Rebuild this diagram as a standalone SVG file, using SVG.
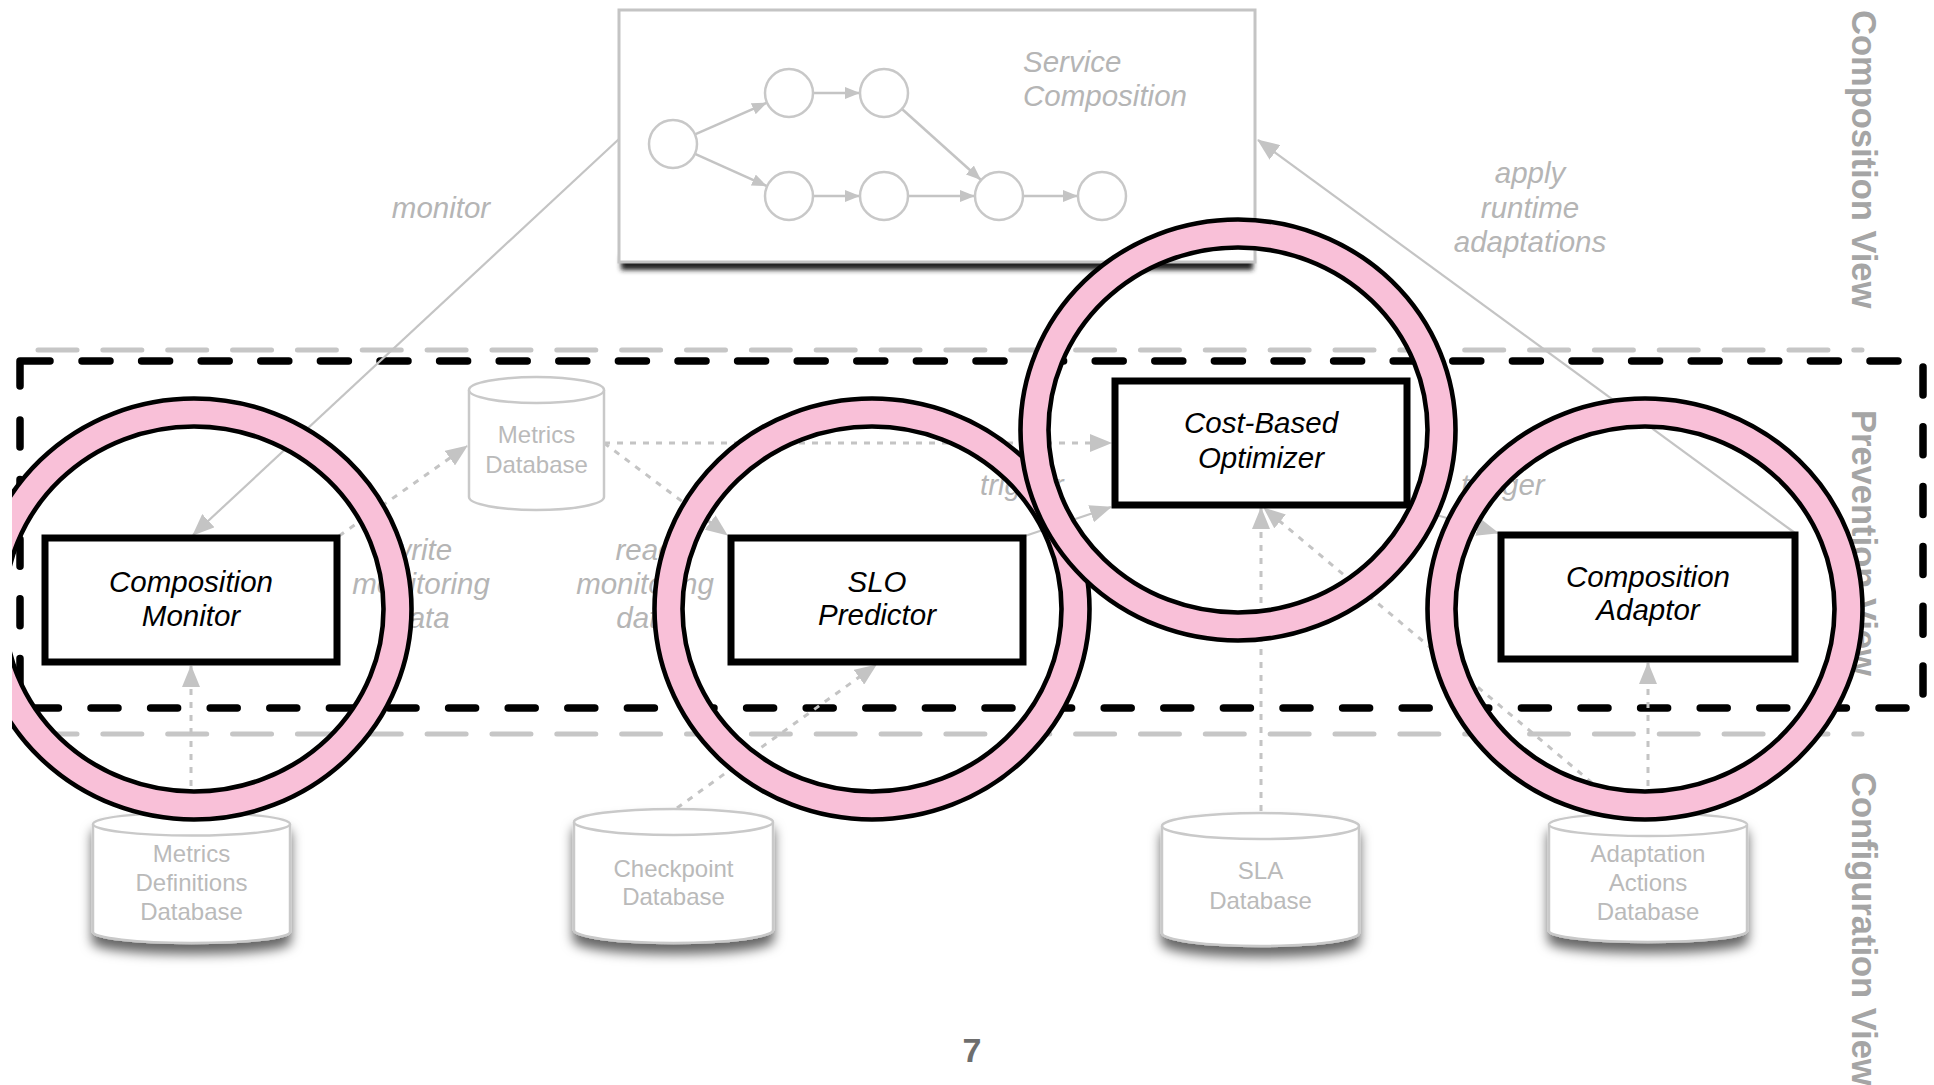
<svg xmlns="http://www.w3.org/2000/svg" width="1934" height="1085" viewBox="0 0 1934 1085">
<style>
.lbl{font-family:"Liberation Sans",Arial,sans-serif;font-style:italic;font-size:29.5px;fill:#b5b5b5;text-anchor:middle}
.node{font-family:"Liberation Sans",Arial,sans-serif;font-style:italic;font-size:29.5px;fill:#000;text-anchor:middle}
.db{font-family:"Liberation Sans",Arial,sans-serif;font-size:24px;fill:#bababa;text-anchor:middle}
.view{font-family:"Liberation Sans",Arial,sans-serif;font-weight:bold;font-size:34.5px;fill:#a5a5a5}
.box{fill:#fff;stroke:#000;stroke-width:7}
.cyl{fill:#fff;stroke:#c9c9c9;stroke-width:2.5}
.sol{fill:none;stroke:#c4c4c4;stroke-width:2.2;marker-end:url(#ah)}
.dot{fill:none;stroke:#c4c4c4;stroke-width:3;stroke-dasharray:6 7;marker-end:url(#ah)}
.sc{fill:#fff;stroke:#c8c8c8;stroke-width:2.5}
.scl{fill:none;stroke:#c4c4c4;stroke-width:2.5;marker-end:url(#ahs)}
.gd{fill:none;stroke:#c6c6c6;stroke-width:5;stroke-linecap:round;stroke-dasharray:39 25.85}
.bd{fill:none;stroke:#000;stroke-width:7.5;stroke-linecap:round;stroke-linejoin:round}
.band{fill:none;stroke:#f9c0d8;stroke-width:29}
.rl{fill:none;stroke:#000;stroke-width:4.6}
</style>
<defs>
<marker id="ah" markerUnits="userSpaceOnUse" markerWidth="22" markerHeight="18" refX="21" refY="9" orient="auto"><path d="M0,0 L22,9 L0,18 z" fill="#c4c4c4"/></marker>
<marker id="ahs" markerUnits="userSpaceOnUse" markerWidth="15" markerHeight="12" refX="15" refY="6" orient="auto"><path d="M0,0 L15,6 L0,12 z" fill="#c4c4c4"/></marker>
<filter id="boxshadow" x="-5%" y="-100%" width="110%" height="300%"><feGaussianBlur stdDeviation="2.5"/></filter>
<filter id="dbshadow" x="-20%" y="-20%" width="140%" height="170%"><feDropShadow dx="0" dy="10" stdDeviation="6" flood-color="#000" flood-opacity="0.6"/></filter>
<clipPath id="slide"><rect x="12" y="0" width="1922" height="1085"/></clipPath>
</defs>
<rect width="1934" height="1085" fill="#fff"/>

<g id="layers">
<path class="gd" d="M38,350 H1862"/>
<path class="gd" d="M38,734 H1862"/>
<path class="bd" d="M20,386 V361 H50"/>
<path class="bd" d="M82,361 H1910" stroke-dasharray="28 31.6"/>
<path class="bd" d="M1923,367 V708" stroke-dasharray="28 31.8"/>
<path class="bd" d="M1906,708 H20" stroke-dasharray="27 32.6"/>
<path class="bd" d="M20,420 V708" stroke-dasharray="27 32.6"/>
</g>

<g id="service-composition">
<rect x="621" y="256" width="632" height="14" fill="#222" filter="url(#boxshadow)"/>
<rect x="619" y="10" width="636" height="252" fill="#fff" stroke="#c4c4c4" stroke-width="3"/>
<path class="scl" d="M695,134.3 L767,102.7"/>
<path class="scl" d="M695,153.8 L767,186.2"/>
<path class="scl" d="M813,93 H860"/>
<path class="scl" d="M813,196 H860"/>
<path class="scl" d="M902,109 L981,180"/>
<path class="scl" d="M908,196 H975"/>
<path class="scl" d="M1023,196 H1078"/>
<circle class="sc" cx="673" cy="144" r="24"/>
<circle class="sc" cx="789" cy="93" r="24"/>
<circle class="sc" cx="884" cy="93" r="24"/>
<circle class="sc" cx="789" cy="196" r="24"/>
<circle class="sc" cx="884" cy="196" r="24"/>
<circle class="sc" cx="999" cy="196" r="24"/>
<circle class="sc" cx="1102" cy="196" r="24"/>
<text class="lbl" style="text-anchor:start" x="1023" y="72">Service</text>
<text class="lbl" style="text-anchor:start" x="1023" y="106">Composition</text>
</g>

<g id="connectors">
<path class="sol" d="M619,139 L193,535"/>
<path class="sol" d="M1795,533 L1258,140"/>
<path class="dot" d="M339,536 L467,446"/>
<path class="dot" d="M604,443 L727,535"/>
<path class="dot" d="M604,443 H1111"/>
<path class="sol" d="M1025,536 L1111,507"/>
<path class="sol" d="M1409,507 L1498,533"/>
<path class="dot" d="M1261,811 V508"/>
<path class="dot" d="M1622,808 L1264,508"/>
<path class="dot" d="M1648,812 V663"/>
<path class="dot" d="M191,812 V666"/>
<path class="dot" d="M677,808 L876,665"/>
<text class="lbl" x="441" y="218">monitor</text>
<text class="lbl" x="1530" y="183">apply</text>
<text class="lbl" x="1530" y="218">runtime</text>
<text class="lbl" x="1530" y="252">adaptations</text>
<text class="lbl" x="421" y="560">write</text>
<text class="lbl" x="421" y="594">monitoring</text>
<text class="lbl" x="421" y="628">data</text>
<text class="lbl" x="645" y="560">read</text>
<text class="lbl" x="645" y="594">monitoring</text>
<text class="lbl" x="645" y="628">data</text>
<text class="lbl" style="text-anchor:start" x="980" y="495">trigger</text>
<text class="lbl" style="text-anchor:start" x="1461" y="495">trigger</text>
</g>

<g id="db-metrics">
<path class="cyl" d="M469,390 A67.5,13 0 0 1 604,390 V497 A67.5,13 0 0 1 469,497 Z"/>
<path class="cyl" fill="none" d="M469,390 A67.5,13 0 0 0 604,390"/>
<text class="db" x="536.5" y="443">Metrics</text>
<text class="db" x="536.5" y="473">Database</text>
</g>

<g id="db-metrics-definitions">
<path class="cyl" filter="url(#dbshadow)" d="M93,824 A98.5,11.5 0 0 1 290,824 V932 A98.5,11 0 0 1 93,932 Z"/>
<path class="cyl" fill="none" d="M93,824 A98.5,11.5 0 0 0 290,824"/>
<text class="db" x="191.5" y="862">Metrics</text>
<text class="db" x="191.5" y="891">Definitions</text>
<text class="db" x="191.5" y="920">Database</text>
</g>

<g id="db-checkpoint">
<path class="cyl" filter="url(#dbshadow)" d="M574,822 A99.5,13 0 0 1 773,822 V930 A99.5,13 0 0 1 574,930 Z"/>
<path class="cyl" fill="none" d="M574,822 A99.5,13 0 0 0 773,822"/>
<text class="db" x="673.5" y="877">Checkpoint</text>
<text class="db" x="673.5" y="905">Database</text>
</g>

<g id="db-sla">
<path class="cyl" filter="url(#dbshadow)" d="M1162,826 A98.5,13 0 0 1 1359,826 V933 A98.5,13 0 0 1 1162,933 Z"/>
<path class="cyl" fill="none" d="M1162,826 A98.5,13 0 0 0 1359,826"/>
<text class="db" x="1260.5" y="879">SLA</text>
<text class="db" x="1260.5" y="909">Database</text>
</g>

<g id="db-adaptation-actions">
<path class="cyl" filter="url(#dbshadow)" d="M1549,824.5 A99,11.5 0 0 1 1747,824.5 V931 A99,11 0 0 1 1549,931 Z"/>
<path class="cyl" fill="none" d="M1549,824.5 A99,11.5 0 0 0 1747,824.5"/>
<text class="db" x="1648" y="862">Adaptation</text>
<text class="db" x="1648" y="891">Actions</text>
<text class="db" x="1648" y="920">Database</text>
</g>

<g id="node-composition-monitor">
<rect class="box" x="45" y="538" width="292" height="124"/>
<text class="node" x="191" y="592">Composition</text>
<text class="node" x="191" y="626">Monitor</text>
</g>

<g id="node-slo-predictor">
<rect class="box" x="731" y="538" width="292" height="124"/>
<text class="node" x="877" y="592">SLO</text>
<text class="node" x="877" y="625">Predictor</text>
</g>

<g id="node-cost-based-optimizer">
<rect class="box" x="1115" y="381" width="292" height="124"/>
<text class="node" x="1261" y="433">Cost-Based</text>
<text class="node" x="1261" y="468">Optimizer</text>
</g>

<g id="node-composition-adaptor">
<rect class="box" x="1501" y="535" width="294" height="124"/>
<text class="node" x="1648" y="587">Composition</text>
<text class="node" x="1648" y="620">Adaptor</text>
</g>

<g id="view-labels">
<text class="view" transform="translate(1852,10) rotate(90)">Composition View</text>
<text class="view" transform="translate(1852,410) rotate(90)">Prevention View</text>
<text class="view" transform="translate(1852,772) rotate(90)">Configuration View</text>
</g>

<g id="rings" clip-path="url(#slide)">
<g id="ring-monitor">
<ellipse class="band" cx="194" cy="609" rx="203.5" ry="196.5"/>
<ellipse class="rl" cx="194" cy="609" rx="217.5" ry="210.5"/>
<ellipse class="rl" cx="194" cy="609" rx="189.5" ry="182.5"/>
</g>
<g id="ring-predictor">
<ellipse class="band" cx="872" cy="609" rx="203.5" ry="196.5"/>
<ellipse class="rl" cx="872" cy="609" rx="217.5" ry="210.5"/>
<ellipse class="rl" cx="872" cy="609" rx="189.5" ry="182.5"/>
</g>
<g id="ring-optimizer">
<ellipse class="band" cx="1238" cy="430" rx="203.5" ry="196.5"/>
<ellipse class="rl" cx="1238" cy="430" rx="217.5" ry="210.5"/>
<ellipse class="rl" cx="1238" cy="430" rx="189.5" ry="182.5"/>
</g>
<g id="ring-adaptor">
<ellipse class="band" cx="1645" cy="609" rx="203.5" ry="196.5"/>
<ellipse class="rl" cx="1645" cy="609" rx="217.5" ry="210.5"/>
<ellipse class="rl" cx="1645" cy="609" rx="189.5" ry="182.5"/>
</g>
</g>

<text id="page-number" x="972" y="1062" text-anchor="middle" font-family="'Liberation Sans',Arial,sans-serif" font-weight="bold" font-size="34" fill="#6e6e6e">7</text>
</svg>
